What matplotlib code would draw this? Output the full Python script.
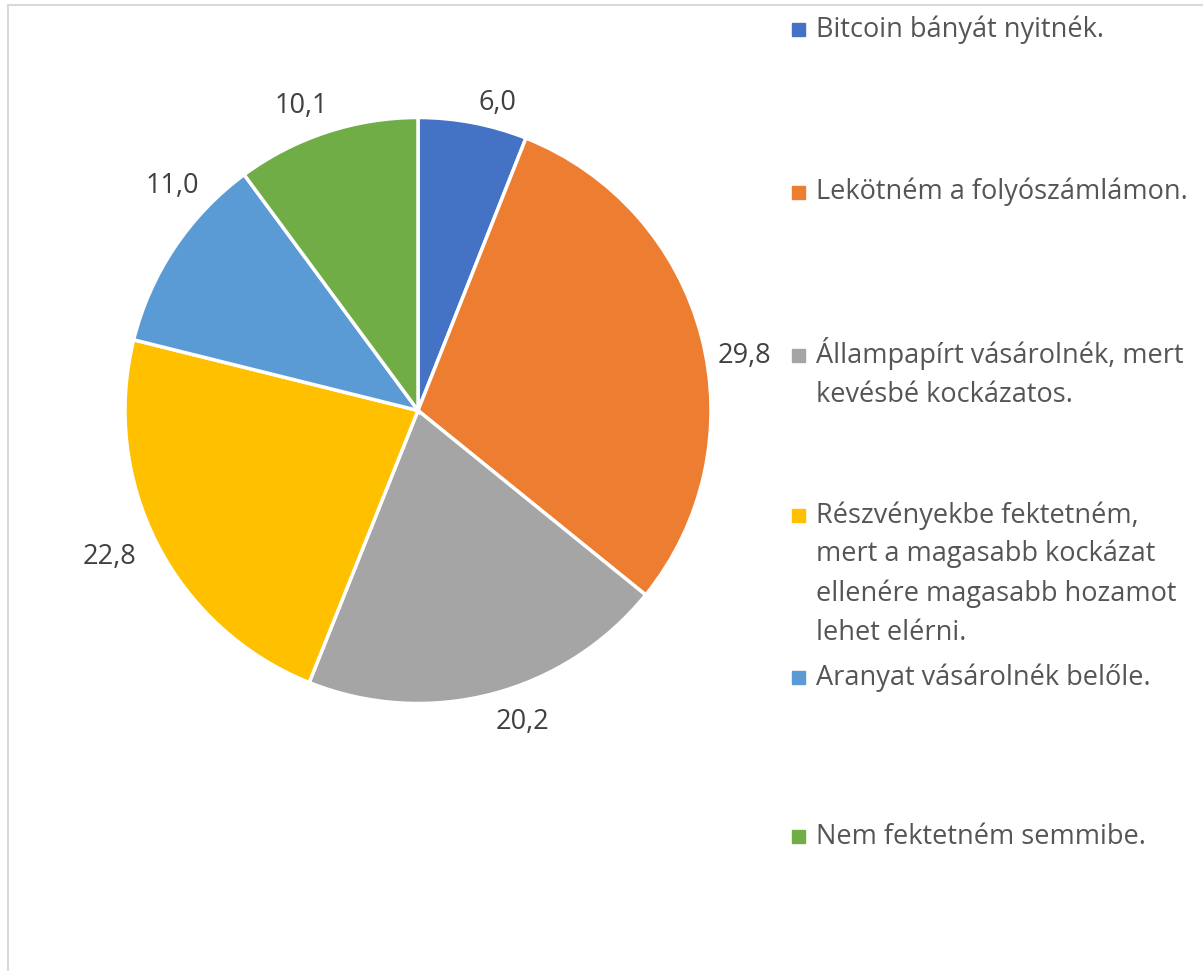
import numpy as np
import matplotlib.pyplot as plt
from matplotlib.patches import Rectangle
from matplotlib.lines import Line2D

plt.rcParams['font.family'] = ['Open Sans', 'DejaVu Sans']

categories = [
    'Bitcoin bányát nyitnék.',
    'Lekötném a folyószámlámon.',
    'Állampapírt vásárolnék, mert\nkevésbé kockázatos.',
    'Részvényekbe fektetném,\nmert a magasabb kockázat\nellenére magasabb hozamot\nlehet elérni.',
    'Aranyat vásárolnék belőle.',
    'Nem fektetném semmibe.',
]
values = [6.0, 29.8, 20.2, 22.8, 11.0, 10.1]
value_labels = ['6,0', '29,8', '20,2', '22,8', '11,0', '10,1']
colors = ['#4472C4', '#ED7D31', '#A5A5A5', '#FFC000', '#5B9BD5', '#70AD47']

W, H = 1203, 971
fig = plt.figure(figsize=(W / 100, H / 100), dpi=100)

# chart border (only left and top visible)
fig.add_artist(Line2D([7.5 / W, 7.5 / W], [0, 1 - 5.5 / H], color='#d9d9d9', lw=1.5))
fig.add_artist(Line2D([7.5 / W, 1], [1 - 5.5 / H, 1 - 5.5 / H], color='#d9d9d9', lw=1.5))

cx, cy, r = 418, 410.5, 293
ax = fig.add_axes([(cx - r) / W, 1 - (cy + r) / H, 2 * r / W, 2 * r / H])
wedges, _ = ax.pie(values, colors=colors, startangle=90, counterclock=False,
                   wedgeprops=dict(edgecolor='white', linewidth=2.5))
ax.set_xlim(-1, 1)
ax.set_ylim(-1, 1)
ax.set_aspect('equal')

# data labels, outside end with small nudges (degrees, radius)
nudge_ang = [-3.6, -5.2, 3.9, -1.7, -8.6, 2.7]
lab_r = [1.085, 1.128, 1.12, 1.164, 1.137, 1.113]
for w, lab, da, rr in zip(wedges, value_labels, nudge_ang, lab_r):
    ang = np.deg2rad((w.theta1 + w.theta2) / 2 + da)
    ax.text(rr * np.cos(ang), rr * np.sin(ang), lab, ha='center', va='center',
            fontsize=19.5, color='#404040', clip_on=False)

# legend
leg_y = [30, 192, 356, 515, 677, 836]
line_h = 39
for cat, col, y in zip(categories, colors, leg_y):
    fig.add_artist(Rectangle((792 / W, 1 - (y + 6.5) / H), 13 / W, 13 / H,
                             transform=fig.transFigure, color=col))
    for i, line in enumerate(cat.split('\n')):
        fig.text(816 / W, 1 - (y + 7.5 + i * line_h) / H, line, ha='left',
                 va='baseline', fontsize=19.5, color='#555555')

fig.savefig('out.png', dpi=100)
